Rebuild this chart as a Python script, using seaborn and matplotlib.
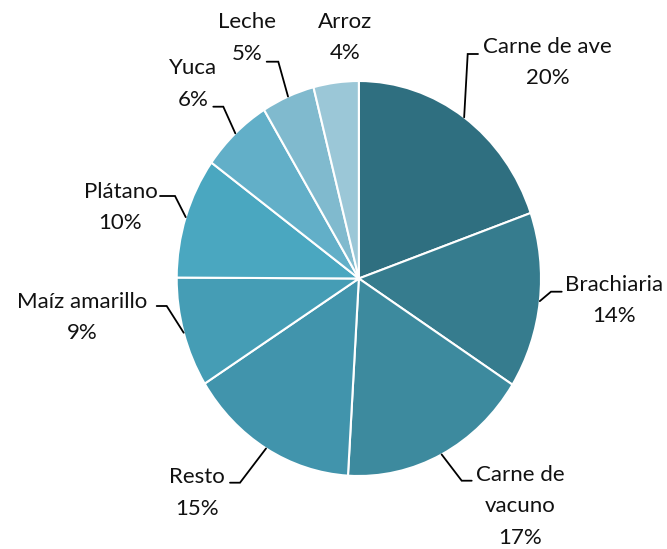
"""Pie chart of product shares with Excel-style leader labels"""

import matplotlib
matplotlib.use("Agg")
import numpy as np
import matplotlib.pyplot as plt
import seaborn as sns

# Data
products = ["Carne de ave", "Brachiaria", "Carne de vacuno", "Resto", "Maíz amarillo",
            "Plátano", "Yuca", "Leche", "Arroz"]
shares = [19.6, 14.4, 16.9, 15.1, 9.0, 9.9, 6.3, 4.7, 4.0]
label_lines = [["Carne de ave"], ["Brachiaria"], ["Carne de", "vacuno"], ["Resto"],
               ["Maíz amarillo"], ["Plátano"], ["Yuca"], ["Leche"], ["Arroz"]]

colors = ["#2F6F80", "#367C8E", "#3D8A9E", "#4194AC", "#459DB5",
          "#4AA7C0", "#62AFC8", "#80BACE", "#9BC7D7"]

sns.set_style("white")
plt.rcParams["font.family"] = ["Lato", "DejaVu Sans"]

W, H = 667, 549
# pie box in pixels (Excel stretched it a bit vertically)
px_l, px_r, px_t, px_b = 176.7, 541.0, 81.0, 476.0

fig = plt.figure(figsize=(W / 100, H / 100), dpi=100)
ax = fig.add_axes([px_l / W, 1 - px_b / H, (px_r - px_l) / W, (px_b - px_t) / H])
wedges, _ = ax.pie(shares, colors=colors, startangle=90, counterclock=False,
                   wedgeprops=dict(edgecolor="white", linewidth=1.5))
ax.set_aspect("auto")
ax.set_xlim(-1, 1)
ax.set_ylim(-1, 1)

# overlay in pixel coords for labels and leader lines
ov = fig.add_axes([0, 0, 1, 1])
ov.set_xlim(0, W)
ov.set_ylim(H, 0)
ov.axis("off")

# label layout: first line centre, elbow and end of leader (None = no leader)
layout = [
    ((547.5, 46.7), (467.7, 54.0), (478.0, 54.0)),
    ((614.5, 285.0), (551.0, 291.7), (561.7, 291.7)),
    ((520.5, 475.0), (461.7, 480.7), (471.7, 480.7)),
    ((196.7, 477.3), (240.0, 482.7), (230.0, 482.7)),
    ((82.0, 301.7), (166.7, 306.0), (156.7, 306.0)),
    ((120.5, 191.7), (175.0, 196.0), (160.0, 196.0)),
    ((193.0, 68.3), (223.3, 106.7), (213.3, 106.7)),
    ((247.5, 22.3), (278.3, 61.7), (266.7, 61.7)),
    ((345.3, 21.7), None, None),
]
step = 31.3

for w, share, lines, (xy, elbow, end) in zip(wedges, shares, label_lines, layout):
    texts = lines + [f"{share:.0f}%"]
    for i, t in enumerate(texts):
        ov.text(xy[0], xy[1] + i * step, t, ha="center", va="center",
                fontsize=16, color="#111111")
    if elbow is not None:
        mid = np.deg2rad((w.theta1 + w.theta2) / 2)
        ex = px_l + (np.cos(mid) + 1) / 2 * (px_r - px_l)
        ey = px_b - (np.sin(mid) + 1) / 2 * (px_b - px_t)
        ov.plot([ex, elbow[0], end[0]], [ey, elbow[1], end[1]],
                color="black", linewidth=1.3, solid_joinstyle="miter")

fig.savefig("out.png", dpi=100)
